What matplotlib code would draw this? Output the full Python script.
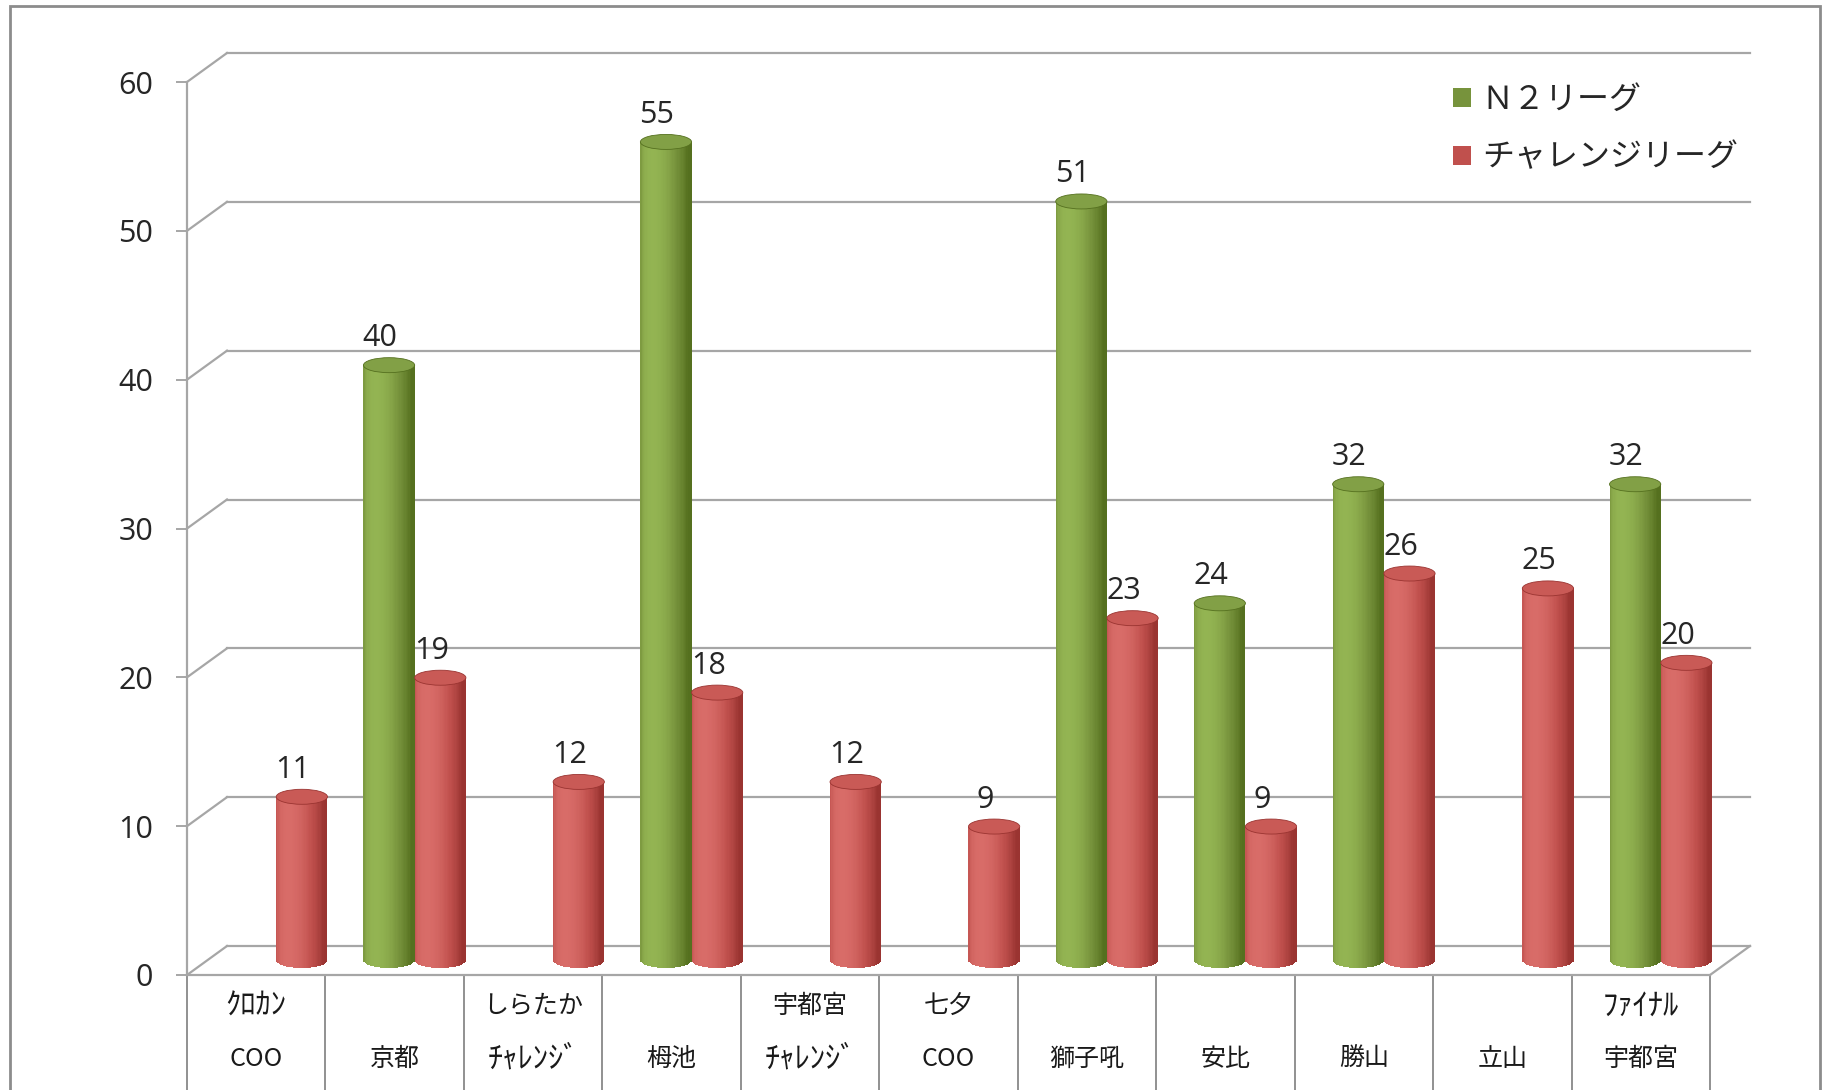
import matplotlib
matplotlib.use('Agg')
import matplotlib.pyplot as plt
from matplotlib.transforms import ScaledTranslation, IdentityTransform
from matplotlib.patches import Ellipse, Rectangle, Patch
from matplotlib.lines import Line2D
import matplotlib.colors as mcolors
import numpy as np

# ---------------- data ----------------
labels_top = ['ｸﾛｶﾝ', '', 'しらたか', '', '宇都宮', '七夕', '', '', '', '', 'ﾌｧｲﾅﾙ']
labels_bottom = ['COO', '京都', 'ﾁｬﾚﾝｼﾞ', '栂池', 'ﾁｬﾚﾝｼﾞ', 'COO', '獅子吼', '安比', '勝山', '立山', '宇都宮']
n2_league = [0, 40, 0, 55, 0, 0, 51, 24, 32, 0, 32]
challenge_league = [11, 19, 12, 18, 12, 9, 23, 9, 26, 25, 20]
series_names = ['Ｎ２リーグ', 'チャレンジリーグ']
y_ticks = [0, 10, 20, 30, 40, 50, 60]

plt.rcParams['font.family'] = ['Noto Sans CJK JP', 'DejaVu Sans']

W, H = 1833, 1090
fig = plt.figure(figsize=(W / 100, H / 100), dpi=100)
fig.patch.set_facecolor('white')

X0, X1 = 187, 1710      # front plane left/right (px)
Y0, YT = 975, 82        # value 0 and value 60 (px from top)
ax = fig.add_axes([X0 / W, 1 - Y0 / H, (X1 - X0) / W, (Y0 - YT) / H])
ax.patch.set_visible(False)
n = len(labels_bottom)
ax.set_xlim(0, n)
ax.set_ylim(0, 60)
ax.set_autoscale_on(False)

DX, DY = 40, 29
GRID = '#a6a6a6'
back = ax.transData + ScaledTranslation(DX / 100, DY / 100, fig.dpi_scale_trans)
half = ax.transData + ScaledTranslation(DX / 200, DY / 200, fig.dpi_scale_trans)

# back wall grid lines + left wall diagonals
for v in y_ticks:
    ax.plot([0, n], [v, v], transform=back, color=GRID, lw=1.6, clip_on=False, zorder=1)
    p = ax.transData.transform((0, v))
    fig.add_artist(Line2D([p[0], p[0] + DX], [p[1], p[1] + DY], transform=IdentityTransform(),
                          color=GRID, lw=1.6, zorder=1))
# floor right diagonal
p = ax.transData.transform((n, 0))
fig.add_artist(Line2D([p[0], p[0] + DX], [p[1], p[1] + DY], transform=IdentityTransform(),
                      color=GRID, lw=1.6, zorder=1))

# spines / ticks
for s in ['top', 'right']:
    ax.spines[s].set_visible(False)
ax.spines['left'].set_color(GRID)
ax.spines['left'].set_linewidth(1.6)
ax.spines['bottom'].set_color(GRID)
ax.spines['bottom'].set_linewidth(1.6)
ax.set_xticks([])
ax.set_yticks(y_ticks)
ax.set_yticklabels([str(v) for v in y_ticks], family='Open Sans')
ax.tick_params(axis='y', length=11 * 0.72, width=1.4, color=GRID, pad=23 * 0.72,
               labelsize=22, labelcolor='#262626')

# category table
xaxis_tr = ax.get_xaxis_transform()
ax_h = Y0 - YT
for k in range(n + 1):
    ax.plot([k, k], [0, -0.3], transform=xaxis_tr, color='#909090', lw=1.4, clip_on=False)
row1 = -(1006 - Y0) / ax_h
row2 = -(1059 - Y0) / ax_h

def label_size(s):
    # half-width katakana render small, so give them a larger size
    if any('\uff61' <= ch <= '\uff9f' for ch in s):
        return 22
    return 18

for i in range(n):
    if labels_top[i]:
        ax.text(i + 0.5, row1, labels_top[i], transform=xaxis_tr, ha='center', va='center',
                fontsize=label_size(labels_top[i]), color='#1a1a1a')
    ax.text(i + 0.5, row2, labels_bottom[i], transform=xaxis_tr, ha='center', va='center',
            fontsize=label_size(labels_bottom[i]), color='#1a1a1a')

# cylinders
BW = 0.37
EH = 15 / (ax_h / 60.0)   # ellipse height in data units

def shade_colors(dark, mid, light, u):
    phi = np.arcsin(np.clip(u, -1, 1))
    I = np.clip(np.cos(phi + 0.55), 0, 1)
    I = 0.25 + 0.75 * I
    d, m, l = (np.array(mcolors.to_rgb(c)) for c in (dark, mid, light))
    out = []
    for t in I:
        if t < 0.7:
            f = (t - 0.25) / 0.45
            out.append(d + (m - d) * f)
        else:
            f = (t - 0.7) / 0.3
            out.append(m + (l - m) * f)
    return [tuple(np.clip(c, 0, 1)) for c in out]

def cylinder(xc, val, dark, mid, light, top):
    ns = 40
    u = np.linspace(-1 + 1 / ns, 1 - 1 / ns, ns)
    xs = xc + u * BW / 2
    bottoms = -EH / 2 * np.sqrt(1 - u ** 2)
    heights = val - bottoms
    cols = shade_colors(dark, mid, light, u)
    ax.bar(xs, heights, width=BW / ns * 1.05, bottom=bottoms, color=cols, linewidth=0,
           transform=half, clip_on=False, zorder=3)
    ax.add_patch(Ellipse((xc, val), BW, EH, transform=half, facecolor=top,
                         edgecolor=dark, lw=0.6, zorder=3.5, clip_on=False))

GREEN = ('#55701f', '#77933c', '#93b452', '#82a046')
RED = ('#9a3431', '#c0504d', '#d86c68', '#c95a56')

for i in range(n):
    xg = i + 0.5 - BW / 2
    xr = i + 0.5 + BW / 2
    for xc, val, cs in ((xg, n2_league[i], GREEN), (xr, challenge_league[i], RED)):
        if val > 0:
            cylinder(xc, val, *cs)
            ax.annotate(str(val), xy=(xc, val), xycoords=half, xytext=(-9 * 0.72, 27 * 0.72),
                        textcoords='offset points', ha='center', va='center', fontsize=22,
                        family='Open Sans', color='#262626', zorder=5, annotation_clip=False)

# legend
handles = [Patch(facecolor=GREEN[1], edgecolor='none'), Patch(facecolor=RED[1], edgecolor='none')]
leg = ax.legend(handles, series_names, loc='upper left',
                bbox_to_anchor=(1453 / W, 1 - 84 / H), bbox_transform=fig.transFigure,
                frameon=False, fontsize=23, handlelength=0.55, handleheight=0.55,
                handletextpad=0.35, labelspacing=0.8, borderpad=0, borderaxespad=0)
for t in leg.get_texts():
    t.set_color('#262626')

# outer chart border (display coords: origin bottom-left)
fig.add_artist(Rectangle((10, -20), 1810, H - 6 + 20, transform=IdentityTransform(), fill=False,
                         edgecolor='#8c8c8c', lw=2))

fig.savefig('out.png', dpi=100, facecolor='white')
